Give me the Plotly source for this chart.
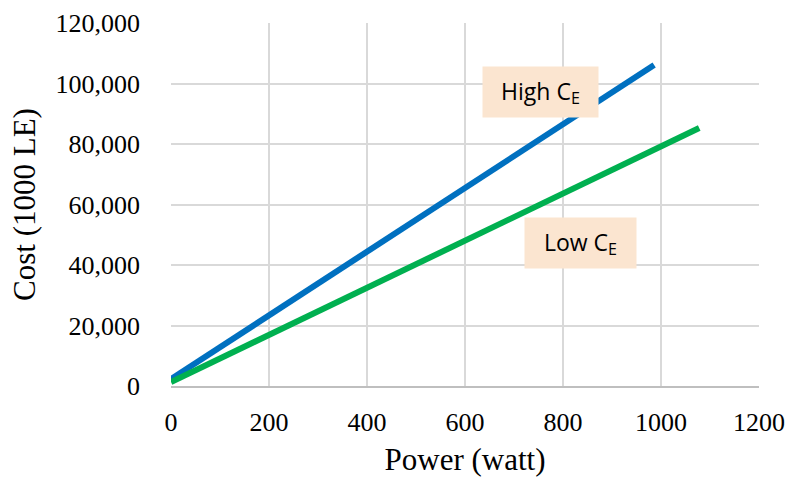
import plotly.graph_objects as go

power_high = [0, 986]
cost_high = [2300, 106100]
power_low = [0, 1078]
cost_low = [1300, 85300]

x_ticks = [0, 200, 400, 600, 800, 1000, 1200]
y_ticks = [0, 20000, 40000, 60000, 80000, 100000, 120000]

fig = go.Figure()
fig.add_trace(go.Scatter(x=power_high, y=cost_high, mode="lines",
                         line=dict(color="#0070C0", width=6), showlegend=False))
fig.add_trace(go.Scatter(x=power_low, y=cost_low, mode="lines",
                         line=dict(color="#00B050", width=6), showlegend=False))

ann_font = dict(family="Open Sans, Liberation Sans, sans-serif", size=23, color="#000000")
fig.add_annotation(x=755, y=97200, text="High C<sub>E</sub>", showarrow=False,
                   bgcolor="#FBE5D0", font=ann_font, borderpad=1, width=113, height=48)
fig.add_annotation(x=835, y=47300, text="Low C<sub>E</sub>", showarrow=False,
                   bgcolor="#FBE5D0", font=ann_font, borderpad=1, width=109, height=48)

serif = "Liberation Serif, Times New Roman, serif"
fig.update_layout(
    width=792, height=477,
    margin=dict(l=171, r=33, t=23, b=91),
    plot_bgcolor="white", paper_bgcolor="white",
    font=dict(family=serif, size=26, color="#000000"),
    xaxis=dict(range=[0, 1200], tickvals=x_ticks, showgrid=True,
               gridcolor="#D9D9D9", gridwidth=2, zeroline=False,
               showline=True, linecolor="#BFBFBF", linewidth=2,
               ticks="", ticklabelstandoff=12, automargin=False,
               title=dict(text="Power (watt)", standoff=14),
               tickfont=dict(size=26)),
    yaxis=dict(range=[0, 120000], tickvals=y_ticks, tickformat=",",
               showgrid=True, gridcolor="#D9D9D9", gridwidth=2, zeroline=False,
               showline=False, ticks="", ticklabelstandoff=30, automargin=False,
               title=dict(text="Cost (1000 LE)", standoff=10),
               tickfont=dict(size=26)),
)

fig.write_html("out.html")
